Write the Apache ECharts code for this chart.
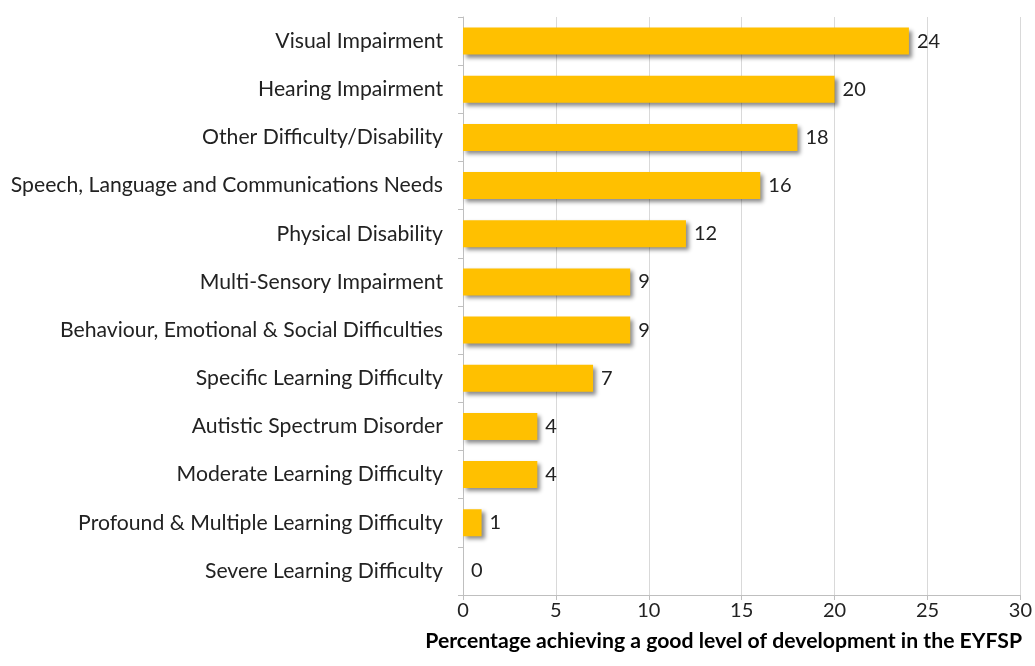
<!DOCTYPE html>
<html>
<head>
<meta charset="utf-8">
<script src="https://cdn.jsdelivr.net/npm/echarts@6/dist/echarts.min.js"></script>
<style>html,body{margin:0;padding:0;background:#fff;}#c{width:1035px;height:666px;}</style>
</head>
<body>
<div id="c"></div>
<script>
const categories = [
  "Visual Impairment",
  "Hearing Impairment",
  "Other Difficulty/Disability",
  "Speech, Language and Communications Needs",
  "Physical Disability",
  "Multi-Sensory Impairment",
  "Behaviour, Emotional & Social Difficulties",
  "Specific Learning Difficulty",
  "Autistic Spectrum Disorder",
  "Moderate Learning Difficulty",
  "Profound & Multiple Learning Difficulty",
  "Severe Learning Difficulty"
];
const values = [24, 20, 18, 16, 12, 9, 9, 7, 4, 4, 1, 0];
const xTicks = [0, 5, 10, 15, 20, 25, 30];
const xAxisTitle = "Percentage achieving a good level of development in the EYFSP";

const FONT = "Lato, 'Open Sans', sans-serif";
const chart = echarts.init(document.getElementById('c'), null, {renderer: 'canvas'});
chart.setOption({
  animation: false,
  grid: {left: 463, right: 13, top: 17, bottom: 71},
  xAxis: {
    type: 'value', min: xTicks[0], max: xTicks[xTicks.length - 1], interval: 5,
    name: xAxisTitle, nameLocation: 'middle', nameGap: 36,
    nameTextStyle: {fontFamily: FONT, fontSize: 21.2, fontWeight: 'bold', color: '#000', padding: [0, 36, 0, 0]},
    axisLine: {show: true, lineStyle: {color: '#bfbfbf', width: 1}},
    axisTick: {show: true, length: 5, lineStyle: {color: '#bfbfbf'}},
    axisLabel: {fontFamily: FONT, fontSize: 20, color: '#222', margin: 6},
    splitLine: {show: true, lineStyle: {color: '#d9d9d9', width: 1}}
  },
  yAxis: {
    type: 'category', data: categories, inverse: true,
    axisLine: {show: true, lineStyle: {color: '#bfbfbf', width: 1}},
    axisTick: {show: true, length: 5, inside: false, lineStyle: {color: '#bfbfbf'}},
    axisLabel: {fontFamily: FONT, fontSize: 21.2, color: '#222', margin: 20}
  },
  series: [{
    type: 'bar', data: values, barWidth: 27,
    itemStyle: {color: '#FFC000', shadowColor: 'rgba(0,0,0,0.45)', shadowBlur: 4, shadowOffsetX: 3, shadowOffsetY: 3},
    label: {show: true, position: 'right', distance: 8, fontFamily: FONT, fontSize: 20, color: '#222'}
  }]
});
</script>
</body>
</html>
